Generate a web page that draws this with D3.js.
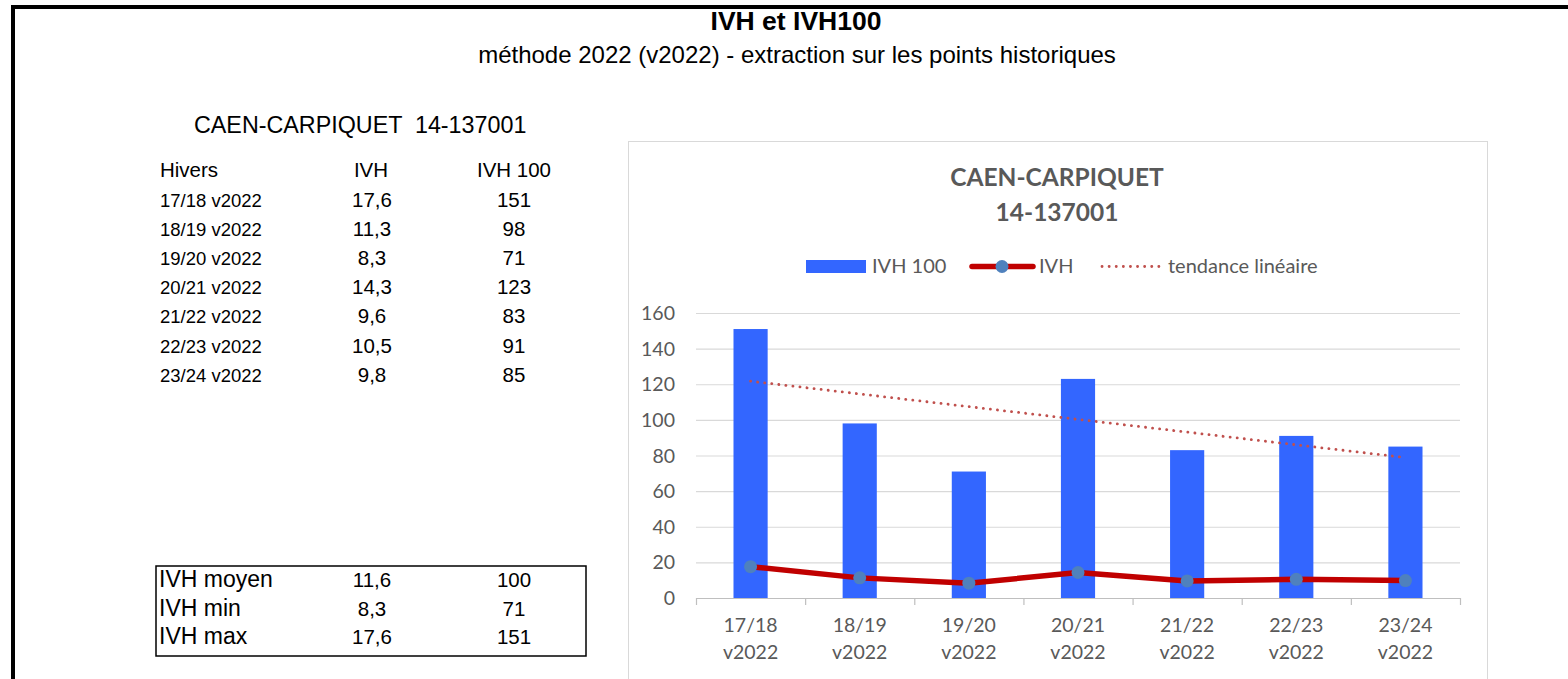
<!DOCTYPE html>
<html>
<head>
<meta charset="utf-8">
<script src="https://cdn.jsdelivr.net/npm/d3@7"></script>
<style>
body { margin: 0; background: #fff; }
svg text { font-family: "Liberation Sans", Arial, sans-serif; }
.chart text { font-family: Lato, "Open Sans", sans-serif; }
</style>
</head>
<body>
<div id="root"></div>
<script>
var hivers = ["17/18 v2022", "18/19 v2022", "19/20 v2022", "20/21 v2022", "21/22 v2022", "22/23 v2022", "23/24 v2022"];
var ivh = [17.6, 11.3, 8.3, 14.3, 9.6, 10.5, 9.8];
var ivh100 = [151, 98, 71, 123, 83, 91, 85];
var yTicks = [0, 20, 40, 60, 80, 100, 120, 140, 160];
var stats = [["IVH moyen", "11,6", "100"], ["IVH min", "8,3", "71"], ["IVH max", "17,6", "151"]];

var w = 1568, h = 679;
var fr = d3.format(".1f");
function virgule(v) { return fr(v).replace(".", ","); }

var svg = d3.select("#root").append("svg").attr("width", w).attr("height", h);

// cadre
svg.append("line").attr("x1", 11).attr("x2", w).attr("y1", 7).attr("y2", 7)
  .attr("stroke", "#000").attr("stroke-width", 4);
svg.append("line").attr("x1", 13).attr("x2", 13).attr("y1", 5).attr("y2", h)
  .attr("stroke", "#000").attr("stroke-width", 4);

svg.append("text").attr("x", 796).attr("y", 30).attr("text-anchor", "middle")
  .attr("font-weight", "bold").attr("font-size", 26.5).text("IVH et IVH100");
svg.append("text").attr("x", 797).attr("y", 63).attr("text-anchor", "middle")
  .attr("font-size", 24).text("méthode 2022 (v2022) - extraction sur les points historiques");

// tableau de gauche
svg.append("text").attr("x", 194).attr("y", 133).attr("font-size", 23.3)
  .attr("xml:space", "preserve").text("CAEN-CARPIQUET  14-137001");

var tab = svg.append("g").attr("font-size", 20.5);
tab.append("text").attr("x", 160).attr("y", 177).text("Hivers");
tab.append("text").attr("x", 371).attr("y", 177).attr("text-anchor", "middle").text("IVH");
tab.append("text").attr("x", 514).attr("y", 177).attr("text-anchor", "middle").text("IVH 100");
hivers.forEach(function(d, i) {
  var y = 206.5 + i * 29.2;
  tab.append("text").attr("x", 160).attr("y", y).attr("font-size", 18.5).text(d);
  tab.append("text").attr("x", 372).attr("y", y).attr("text-anchor", "middle").text(virgule(ivh[i]));
  tab.append("text").attr("x", 514).attr("y", y).attr("text-anchor", "middle").text(ivh100[i]);
});

svg.append("rect").attr("x", 156).attr("y", 566).attr("width", 430).attr("height", 90)
  .attr("fill", "none").attr("stroke", "#000").attr("stroke-width", 1.5);
stats.forEach(function(r, i) {
  var y = 587 + i * 28.5;
  svg.append("text").attr("x", 159).attr("y", y).attr("font-size", 23).text(r[0]);
  svg.append("text").attr("x", 372).attr("y", y).attr("text-anchor", "middle").attr("font-size", 20.5).text(r[1]);
  svg.append("text").attr("x", 514).attr("y", y).attr("text-anchor", "middle").attr("font-size", 20.5).text(r[2]);
});

// graphique
var chart = svg.append("g").attr("class", "chart");
chart.append("rect").attr("x", 628.5).attr("y", 141.5).attr("width", 859).attr("height", 560)
  .attr("fill", "#fff").attr("stroke", "#D9D9D9");

chart.append("text").attr("x", 1057).attr("y", 186).attr("text-anchor", "middle")
  .attr("font-weight", "bold").attr("font-size", 24.5).attr("fill", "#595959").text("CAEN-CARPIQUET");
chart.append("text").attr("x", 1057).attr("y", 221).attr("text-anchor", "middle")
  .attr("font-weight", "bold").attr("font-size", 24.5).attr("fill", "#595959").text("14-137001");

var x0 = 696, x1 = 1460;
var xb = d3.scaleBand().domain(hivers).range([x0, x1]);
var x = d3.scaleBand().domain(hivers).range([x0, x1]).paddingInner(0.687).paddingOuter(0.3435);
var y = d3.scaleLinear().domain([0, 160]).range([598, 313]);

chart.append("g").selectAll("line").data(yTicks).enter().append("line")
  .attr("x1", x0).attr("x2", x1).attr("y1", function(d) { return y(d) + 0.5; }).attr("y2", function(d) { return y(d) + 0.5; })
  .attr("stroke", function(d) { return d === 0 ? "#BFBFBF" : "#D9D9D9"; }).attr("stroke-width", 1.2);

chart.append("g").selectAll("text").data(yTicks).enter().append("text")
  .attr("x", 675).attr("y", function(d) { return y(d) + 7; }).attr("text-anchor", "end")
  .attr("font-size", 19.5).attr("fill", "#595959").text(function(d) { return d; });

// graduations de l'axe x
var bounds = hivers.map(function(d) { return xb(d); }).concat([x1]);
chart.append("g").selectAll("line").data(bounds).enter().append("line")
  .attr("x1", function(d) { return d + 0.5; }).attr("x2", function(d) { return d + 0.5; })
  .attr("y1", 598).attr("y2", 605).attr("stroke", "#BFBFBF").attr("stroke-width", 1.2);

chart.append("g").selectAll("rect").data(hivers).enter().append("rect")
  .attr("x", function(d) { return x(d); }).attr("width", x.bandwidth())
  .attr("y", function(d, i) { return y(ivh100[i]); })
  .attr("height", function(d, i) { return y(0) - y(ivh100[i]); })
  .attr("fill", "#3366FF");

var cx = function(i) { return xb(hivers[i]) + xb.bandwidth() / 2; };

// tendance linéaire (moindres carrés sur IVH 100)
var n = ivh100.length, mx = (n - 1) / 2, my = d3.mean(ivh100);
var slope = d3.sum(ivh100, function(v, i) { return (i - mx) * (v - my); }) / d3.sum(ivh100, function(v, i) { return (i - mx) * (i - mx); });
var icpt = my - slope * mx;
chart.append("line").attr("x1", cx(0)).attr("x2", cx(n - 1))
  .attr("y1", y(icpt)).attr("y2", y(icpt + slope * (n - 1)))
  .attr("stroke", "#C0504D").attr("stroke-width", 2.8).attr("stroke-dasharray", "0.1 7").attr("stroke-linecap", "round");

var line = d3.line().x(function(d, i) { return cx(i); }).y(function(d) { return y(d); });
chart.append("path").datum(ivh).attr("d", line).attr("fill", "none")
  .attr("stroke", "#C00000").attr("stroke-width", 5.5).attr("stroke-linejoin", "round");
chart.append("g").selectAll("circle").data(ivh).enter().append("circle")
  .attr("cx", function(d, i) { return cx(i); }).attr("cy", function(d) { return y(d); })
  .attr("r", 6.5).attr("fill", "#4F81BD");

var xl = chart.append("g").attr("font-size", 19.5).attr("fill", "#595959").attr("text-anchor", "middle");
hivers.forEach(function(d, i) {
  var p = d.split(" ");
  xl.append("text").attr("x", cx(i)).attr("y", 632).text(p[0]);
  xl.append("text").attr("x", cx(i)).attr("y", 659).text(p[1]);
});

// légende
var lg = chart.append("g").attr("font-size", 20).attr("fill", "#595959");
lg.append("rect").attr("x", 806).attr("y", 260).attr("width", 60).attr("height", 13).attr("fill", "#3366FF");
lg.append("text").attr("x", 872).attr("y", 273).text("IVH 100");
lg.append("line").attr("x1", 972).attr("x2", 1033).attr("y1", 266.5).attr("y2", 266.5)
  .attr("stroke", "#C00000").attr("stroke-width", 5.5).attr("stroke-linecap", "round");
lg.append("circle").attr("cx", 1002).attr("cy", 266.5).attr("r", 6.5).attr("fill", "#4F81BD");
lg.append("text").attr("x", 1039).attr("y", 273).text("IVH");
lg.append("line").attr("x1", 1102).attr("x2", 1160).attr("y1", 266.5).attr("y2", 266.5)
  .attr("stroke", "#C0504D").attr("stroke-width", 2.8).attr("stroke-dasharray", "0.1 7").attr("stroke-linecap", "round");
lg.append("text").attr("x", 1168).attr("y", 273).text("tendance linéaire");
</script>
</body>
</html>
